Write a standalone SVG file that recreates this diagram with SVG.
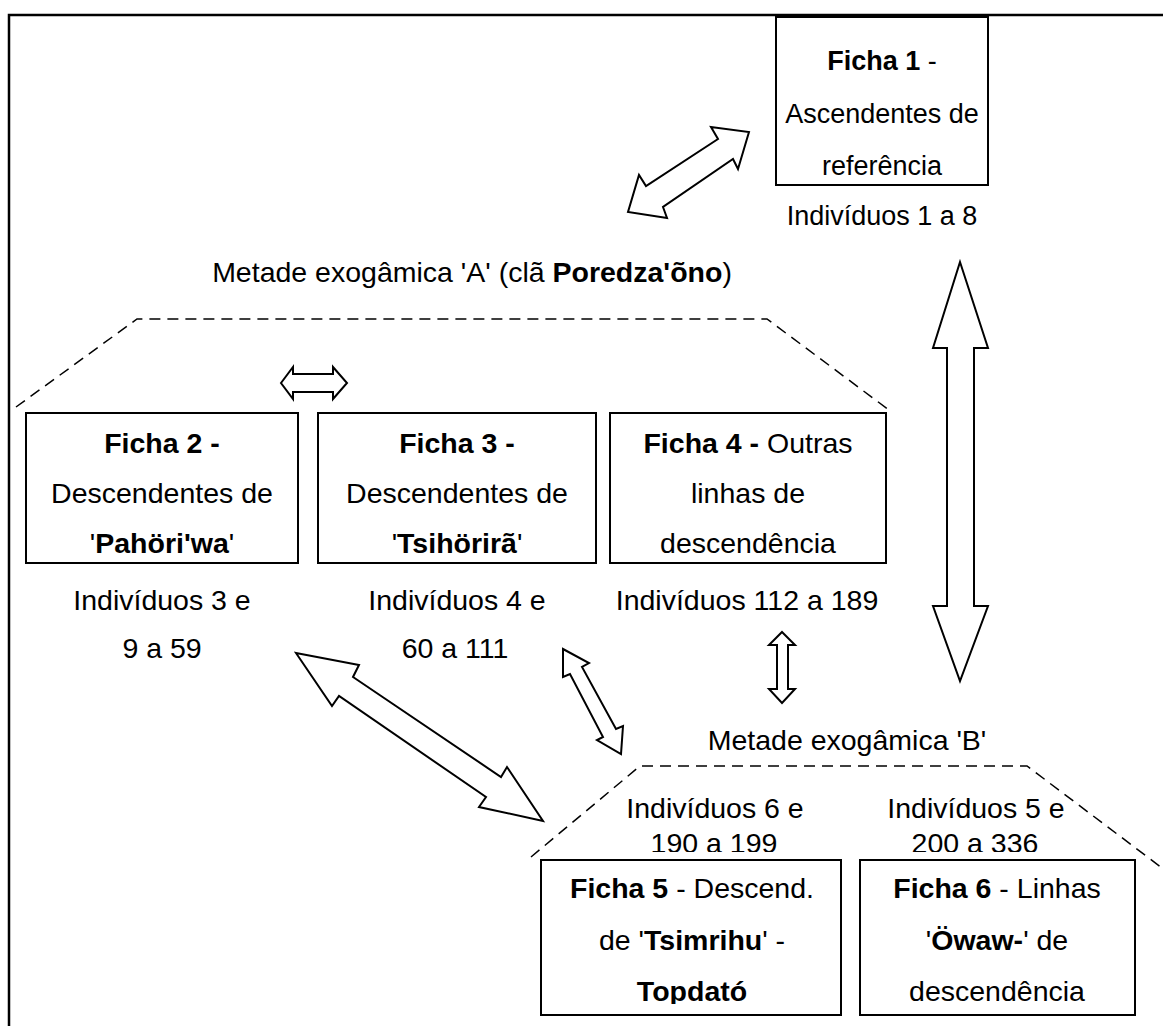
<svg xmlns="http://www.w3.org/2000/svg" width="1163" height="1026" viewBox="0 0 1163 1026">
<style>
text{font-family:"Liberation Sans",Arial,sans-serif;font-size:28.5px;fill:#000;text-anchor:middle}
.b{font-weight:bold}
.s{font-size:27px}
.box{fill:#fff;stroke:#000;stroke-width:2}
.arr{fill:#fff;stroke:#000;stroke-width:2;stroke-linejoin:miter}
.dash{fill:none;stroke:#000;stroke-width:1.5;stroke-dasharray:11 7}
</style>
<defs>
<clipPath id="c56"><rect x="520" y="780" width="643" height="72"/></clipPath>
<clipPath id="c5"><rect x="541" y="860" width="300" height="144"/></clipPath>
</defs>
<rect width="1163" height="1026" fill="#fff"/>
<path d="M9,1030 V15 H1170" fill="none" stroke="#000" stroke-width="2.5"/>
<g id="groups">
<path class="dash" d="M16,407 L137,319 H767 L889,410"/>
<path class="dash" d="M531,857 L640,766 H1027 L1170,874"/>
<text x="472" y="282">Metade exogâmica 'A' (clã <tspan class="b">Poredza'õno</tspan>)</text>
<text x="847" y="750">Metade exogâmica 'B'</text>
</g>
<g id="connectors">
<polygon class="arr" points="749,132 738,169 733,159 663,207 667,218 628,212 639,175 646,186 718,139 711,127"/>
<polygon class="arr" points="960,262 988,348 974,348 974,606 988,606 960,681 933,606 947,606 947,348 933,348"/>
<polygon class="arr" points="281,383 293,367 293,374 333,374 333,367 347,383 333,399 333,392 293,392 293,399"/>
<polygon class="arr" points="296,653 359,665 353,677 501,777 507,767 543,821 479,807 486,797 339,696 332,706"/>
<polygon class="arr" points="563,649 589,663 582,667 616,729 623,726 621,754 597,740 603,737 570,674 563,677"/>
<polygon class="arr" points="782,632 795,645 788,645 788,689 795,689 782,703 769,689 777,689 777,645 769,645"/>
</g>
<g id="ficha1">
<rect class="box" x="776" y="17" width="212" height="168"/>
<text x="882" y="70" class="s"><tspan class="b">Ficha 1</tspan> -</text>
<text x="882" y="123" class="s">Ascendentes de</text>
<text x="882" y="175" class="s">referência</text>
<text x="882" y="225" class="s">Indivíduos 1 a 8</text>
</g>
<g id="ficha2">
<rect class="box" x="26" y="413" width="272" height="150"/>
<text x="162" y="453" class="b">Ficha 2 -</text>
<text x="162" y="503">Descendentes de</text>
<text x="162" y="553">'<tspan class="b">Pahöri'wa</tspan>'</text>
<text x="162" y="610">Indivíduos 3 e</text>
<text x="162" y="658">9 a 59</text>
</g>
<g id="ficha3">
<rect class="box" x="318" y="413" width="278" height="150"/>
<text x="457" y="453" class="b">Ficha 3 -</text>
<text x="457" y="503">Descendentes de</text>
<text x="457" y="553">'<tspan class="b">Tsihörirã</tspan>'</text>
<text x="457" y="610">Indivíduos 4 e</text>
<text x="455" y="658">60 a 111</text>
</g>
<g id="ficha4">
<rect class="box" x="610" y="413" width="276" height="150"/>
<text x="748" y="453"><tspan class="b">Ficha 4 -</tspan> Outras</text>
<text x="748" y="503">linhas de</text>
<text x="748" y="553">descendência</text>
<text x="747" y="610">Indivíduos 112 a 189</text>
</g>
<g id="ficha5">
<g clip-path="url(#c56)">
<text x="715" y="818">Indivíduos 6 e</text>
<text x="714" y="853">190 a 199</text>
</g>
<rect class="box" x="541" y="860" width="300" height="155"/>
<g clip-path="url(#c5)">
<text x="692" y="898"><tspan class="b">Ficha 5</tspan> - Descend.</text>
<text x="692" y="950">de '<tspan class="b">Tsimrihu</tspan>' -</text>
<text x="692" y="1001" class="b">Topdató</text>
</g>
</g>
<g id="ficha6">
<g clip-path="url(#c56)">
<text x="976" y="818">Indivíduos 5 e</text>
<text x="975" y="853">200 a 336</text>
</g>
<rect class="box" x="860" y="860" width="275" height="155"/>
<text x="997" y="898"><tspan class="b">Ficha 6</tspan> - Linhas</text>
<text x="997" y="950">'<tspan class="b">Öwaw-</tspan>' de</text>
<text x="997" y="1001">descendência</text>
</g>
</svg>
